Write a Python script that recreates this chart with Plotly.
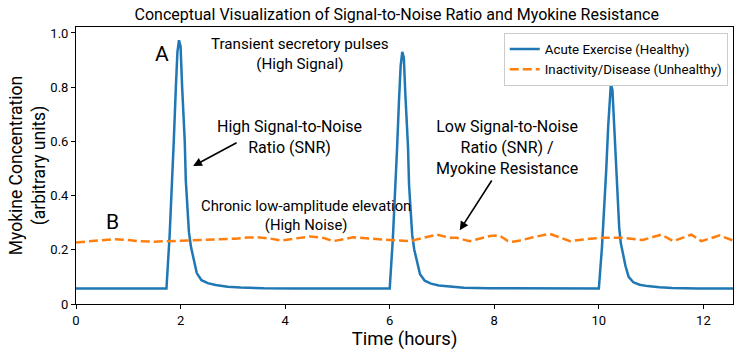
import plotly.graph_objects as go

# Acute exercise (healthy): transient pulses
t_healthy = [0.0, 1.73, 1.79, 1.85, 1.87, 1.91, 1.94, 1.97, 2.00, 2.03, 2.08, 2.10, 2.13, 2.16, 2.20, 2.25, 2.31, 2.40, 2.52, 2.67, 2.90, 3.15, 3.6, 4.2, 5.0,
             6.00, 6.06, 6.12, 6.14, 6.18, 6.21, 6.24, 6.27, 6.30, 6.35, 6.37, 6.40, 6.43, 6.47, 6.52, 6.58, 6.67, 6.79, 6.94, 7.17, 7.42, 7.9, 8.5,
             10.00, 10.06, 10.12, 10.14, 10.18, 10.21, 10.23, 10.26, 10.29, 10.34, 10.36, 10.39, 10.42, 10.46, 10.51, 10.57, 10.66, 10.78, 10.93, 11.16, 11.4, 11.9, 12.57]
y_healthy = [0.057, 0.057, 0.25, 0.48, 0.60, 0.80, 0.93, 0.973, 0.95, 0.80, 0.60, 0.456, 0.335, 0.265, 0.21, 0.16, 0.114, 0.088, 0.077, 0.070, 0.064, 0.061, 0.058, 0.057, 0.057,
             0.057, 0.24, 0.46, 0.57, 0.76, 0.88, 0.93, 0.91, 0.77, 0.58, 0.44, 0.32, 0.255, 0.20, 0.155, 0.11, 0.086, 0.075, 0.068, 0.063, 0.060, 0.058, 0.057,
             0.057, 0.21, 0.40, 0.49, 0.66, 0.77, 0.81, 0.79, 0.67, 0.51, 0.38, 0.28, 0.225, 0.18, 0.14, 0.10, 0.080, 0.071, 0.066, 0.062, 0.059, 0.057, 0.057]

# Inactivity / disease (unhealthy): chronic low-amplitude elevation
t_unhealthy = [0.0, 0.35, 0.71, 1.0, 1.17, 1.5, 1.81, 2.32, 2.77, 3.05, 3.28, 3.47, 3.7, 3.92, 4.17, 4.47, 4.73, 4.92, 5.30, 5.75,
               6.0, 6.39, 6.9, 7.15, 7.28, 7.53, 7.92, 8.1, 8.26, 8.36, 8.49, 8.74, 9.06, 9.45, 9.83, 10.08, 10.46, 10.84,
               11.2, 11.42, 11.77, 11.96, 12.31, 12.57]
y_unhealthy = [0.227, 0.232, 0.239, 0.236, 0.232, 0.230, 0.232, 0.234, 0.237, 0.241, 0.245, 0.246, 0.242, 0.234, 0.241, 0.249, 0.244, 0.232, 0.246, 0.239,
               0.236, 0.232, 0.256, 0.244, 0.244, 0.232, 0.251, 0.253, 0.232, 0.230, 0.234, 0.246, 0.259, 0.232, 0.241, 0.244, 0.244, 0.236,
               0.256, 0.232, 0.256, 0.232, 0.253, 0.234]

x_ticks = [0, 2, 4, 6, 8, 10, 12]
y_ticks = [0, 0.2, 0.4, 0.6, 0.8, 1.0]
y_tick_labels = ["0", "0.2", "0.4", "0.6", "0.8", "1.0"]

FONT = "Roboto"

fig = go.Figure()
fig.add_trace(go.Scatter(x=t_healthy, y=y_healthy, mode="lines", name="Acute Exercise (Healthy)",
                         line=dict(color="#1f77b4", width=2.5)))
fig.add_trace(go.Scatter(x=t_unhealthy, y=y_unhealthy, mode="lines", name="Inactivity/Disease (Unhealthy)",
                         line=dict(color="#ff7f0e", width=2.5, dash="9px,4px")))

ann = []
def txt(x, y, s, size):
    ann.append(dict(x=x, y=y, xref="x", yref="y", text=s, showarrow=False,
                    font=dict(family=FONT, size=size, color="black"), align="center"))

txt(1.64, 0.923, "A", 21)
txt(0.69, 0.302, "B", 21)
txt(4.28, 0.923, "Transient secretory pulses<br>(High Signal)", 15.2)
txt(4.09, 0.618, "High Signal-to-Noise<br>Ratio (SNR)", 16)
txt(4.40, 0.326, "Chronic low-amplitude elevation<br>(High Noise)", 14.8)
txt(8.24, 0.576, "Low Signal-to-Noise<br>Ratio (SNR) /<br>Myokine Resistance", 16)

for (hx, hy, tx, ty) in [(2.24, 0.509, 3.10, 0.598), (7.34, 0.272, 7.97, 0.461)]:
    ann.append(dict(x=hx, y=hy, ax=tx, ay=ty, xref="x", yref="y", axref="x", ayref="y",
                    text="", showarrow=True, arrowhead=2, arrowsize=1.1, arrowwidth=1.6,
                    arrowcolor="black"))

fig.update_layout(
    width=743, height=359,
    margin=dict(l=76, r=10, t=27, b=55),
    paper_bgcolor="white", plot_bgcolor="white",
    font=dict(family=FONT, color="black"),
    title=dict(text="Conceptual Visualization of Signal-to-Noise Ratio and Myokine Resistance",
               x=0.534, xanchor="center", y=0.96, yanchor="middle", font=dict(family=FONT, size=16)),
    showlegend=True,
    legend=dict(x=0.992, y=0.979, xanchor="right", yanchor="top", bgcolor="white",
                bordercolor="#cccccc", borderwidth=1, font=dict(family=FONT, size=13.3),
                tracegroupgap=0, itemwidth=30),
    annotations=ann,
)
fig.update_xaxes(range=[0, 12.566], tickvals=x_ticks, ticks="outside", ticklen=4, tickcolor="black",
                 showline=True, linecolor="black", linewidth=1, mirror=True, showgrid=False, zeroline=False,
                 tickfont=dict(size=13), title=dict(text="Time (hours)", font=dict(size=18.5), standoff=5))
fig.update_yaxes(range=[0, 1.022], tickvals=y_ticks, ticktext=y_tick_labels, ticks="outside", ticklen=4,
                 tickcolor="black", showline=True, linecolor="black", linewidth=1, mirror=True,
                 showgrid=False, zeroline=False, tickfont=dict(size=13),
                 title=dict(text="Myokine Concentration<br>(arbitrary units)", font=dict(size=17.5), standoff=0))

fig.write_html("out.html")
